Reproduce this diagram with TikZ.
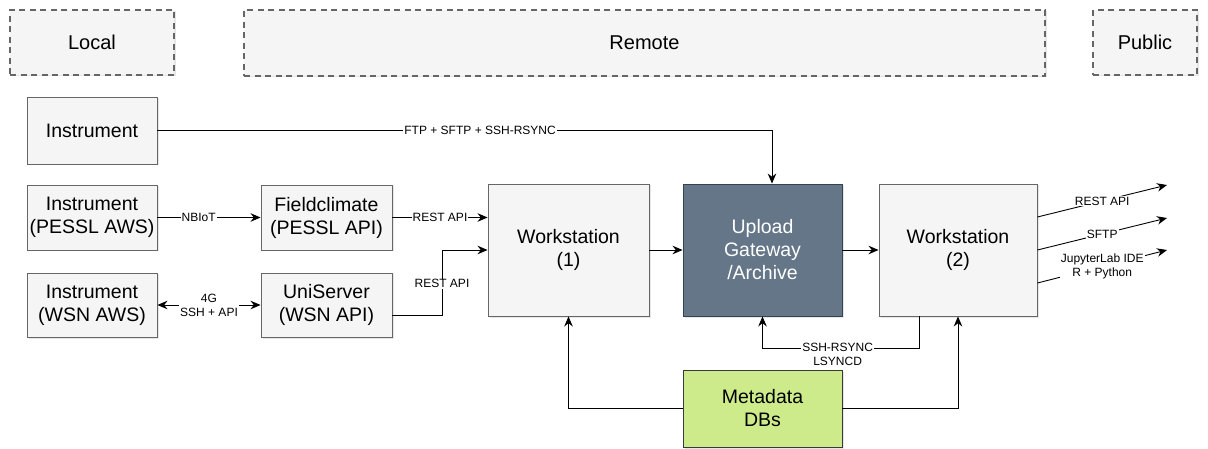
\documentclass[tikz,border=0pt]{standalone}
\usepackage{fontspec}
\setmainfont{Liberation Sans}
\usetikzlibrary{arrows.meta,shadows,calc}
\definecolor{boxfill}{HTML}{F5F5F5}
\definecolor{boxline}{HTML}{666666}
\definecolor{gatefill}{HTML}{647687}
\definecolor{gateline}{HTML}{314354}
\definecolor{metafill}{HTML}{CDEB8B}
\definecolor{metaline}{HTML}{36393D}
\tikzset{
  box/.style={draw=boxline, fill=boxfill, line width=0.9pt, inner sep=0pt, align=center,
    font=\fontsize{19.5}{23}\selectfont,
    drop shadow={opacity=0.2, shadow xshift=1.5pt, shadow yshift=-1.5pt}},
  zone/.style={draw=boxline, fill=boxfill, line width=1.6pt, dash pattern=on 6pt off 4.5pt,
    inner sep=0pt, font=\fontsize{20}{23}\selectfont,
    drop shadow={opacity=0.2, shadow xshift=1.5pt, shadow yshift=-1.5pt}},
  arr/.style={-{Stealth[length=10pt,width=8.5pt]}, line width=0.9pt},
  arrboth/.style={{Stealth[length=10pt,width=8.5pt]}-{Stealth[length=10pt,width=8.5pt]}, line width=0.9pt},
  lbl/.style={fill=white, inner sep=1pt, align=center, font=\fontsize{12}{14}\selectfont},
}
\begin{document}
\begin{tikzpicture}[x=1pt,y=-1pt]
\useasboundingbox (0,0) rectangle (1208,449);
% zones
\node[zone, minimum width=164pt, minimum height=65pt] (local) at (92,42.5) {Local};
\node[zone, minimum width=801pt, minimum height=66pt] (remote) at (644.5,43) {Remote};
\node[zone, minimum width=104pt, minimum height=65pt] (public) at (1145,42.5) {Public};
% boxes
\node[box, minimum width=130pt, minimum height=67pt] (inst1) at (92,130.5) {Instrument};
\node[box, minimum width=130pt, minimum height=65pt] (inst2) at (92,217.5) {Instrument\\(PESSL AWS)};
\node[box, minimum width=131pt, minimum height=65pt] (field) at (326.5,217.5) {Fieldclimate\\(PESSL API)};
\node[box, minimum width=130pt, minimum height=64pt] (inst3) at (92,305) {Instrument\\(WSN AWS)};
\node[box, minimum width=131pt, minimum height=64pt] (uni) at (326.5,305) {UniServer\\(WSN API)};
\node[box, minimum width=161pt, minimum height=132pt] (w1) at (568.5,250) {Workstation\\(1)};
\node[box, draw=gateline, fill=gatefill, text=white, minimum width=159pt, minimum height=132pt] (up) at (762.5,250) {Upload\\Gateway\\/Archive};
\node[box, minimum width=158pt, minimum height=132pt] (w2) at (958,250) {Workstation\\(2)};
\node[box, draw=metaline, fill=metafill, minimum width=159pt, minimum height=77pt] (meta) at (762.5,408.5) {Metadata\\DBs};
% output ends
\coordinate (o1) at (1167,185);
\coordinate (o2) at (1167,218);
\coordinate (o3) at (1167,250);
% connectors
\draw[arr] (inst1.east) -- node[lbl, pos=0.525]{FTP + SFTP + SSH-RSYNC} (772,130.5) -- ([xshift=9.5pt]up.north);
\draw[arr] (inst2.east) -- node[lbl, pos=0.4]{NBIoT} (field.west);
\draw[arr] (field.east) -- node[lbl]{REST API} (field.east -| w1.west);
\draw[arr] ([yshift=-10pt]uni.east) -- (442,315) -- node[lbl, pos=0.48]{REST API} (442,250) -- (w1.west);
\draw[arrboth] (inst3.east) -- node[lbl, pos=0.5]{4G\\SSH + API} (uni.west);
\draw[arr] (w1.east) -- (up.west);
\draw[arr] (up.east) -- (w2.west);
\draw[arr] ([xshift=-39pt]w2.south) -- (919,348) -- node[lbl, pos=0.52, yshift=-6pt]{SSH-RSYNC\\LSYNCD} (762.5,348) -- (up.south);
\draw[arr] (meta.west) -| (w1.south);
\draw[arr] (meta.east) -| (w2.south);
\draw[arr] ([yshift=33pt]w2.east) -- node[lbl]{REST API} (o1);
\draw[arr] (w2.east) -- node[lbl]{SFTP} (o2);
\draw[arr] ([yshift=-33pt]w2.east) -- node[lbl]{JupyterLab IDE\\R + Python} (o3);
\end{tikzpicture}
\end{document}
